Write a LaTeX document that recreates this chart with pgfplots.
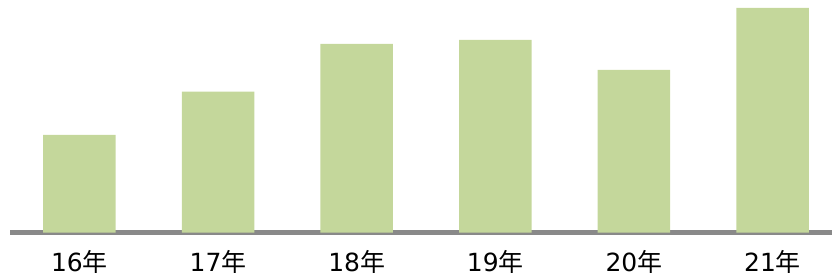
\documentclass[border=0pt]{standalone}
\usepackage{fontspec}
\setmainfont{DejaVu Sans}
\newfontfamily\cjk{Noto Sans CJK JP}
\usepackage{pgfplots}
\pgfplotsset{compat=1.18}
\definecolor{barg}{HTML}{C4D79B}
\definecolor{lineg}{HTML}{898989}
\begin{document}
\begin{tikzpicture}
\begin{axis}[
  at={(10bp,45.5bp)}, anchor=south west,
  scale only axis, width=822bp, height=232.5bp,
  xmin=-0.5014, xmax=5.429, ymin=0, ymax=232.5,
  axis x line=bottom, axis y line=none,
  x axis line style={-, line width=5bp, color=lineg},
  xtick={0,1,2,3,4,5}, major tick length=0pt,
  xticklabels={{16{\cjk 年}},{17{\cjk 年}},{18{\cjk 年}},{19{\cjk 年}},{20{\cjk 年}},{21{\cjk 年}}},
  xticklabel style={anchor=base, yshift=-39bp, inner sep=0pt, text depth=0pt, font=\fontsize{25bp}{30bp}\selectfont, text=black},
  ytick=\empty,
  clip=false,
]
\addplot[ybar, bar width=72.5bp, fill=barg, draw=none] coordinates {(0,97.5) (1,140.8) (2,188.5) (3,192.5) (4,162.5) (5,224.5)};
\end{axis}
\pgfresetboundingbox
\path[use as bounding box] (0,0) rectangle (832bp,278bp);
\end{tikzpicture}
\end{document}
